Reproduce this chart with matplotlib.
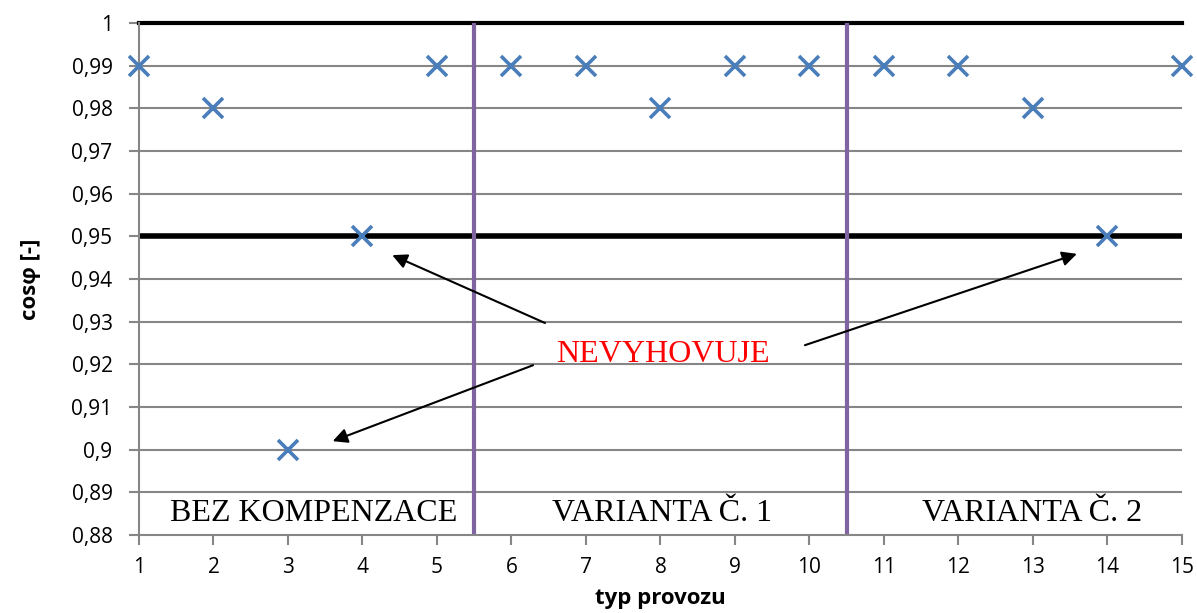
import matplotlib
matplotlib.use("Agg")
import matplotlib.pyplot as plt
import numpy as np

# data
provoz = list(range(1, 16))
cosphi = [0.99, 0.98, 0.90, 0.95, 0.99, 0.99, 0.99, 0.98, 0.99, 0.99,
          0.99, 0.99, 0.98, 0.95, 0.99]
limit = 0.95
sections = ["BEZ KOMPENZACE", "VARIANTA Č. 1", "VARIANTA Č. 2"]
section_x = [3.34, 8.02, 12.99]
borders = [5.5, 10.5]
yticks = np.round(np.arange(0.88, 1.0001, 0.01), 2)

fig = plt.figure(figsize=(11.97, 6.13), dpi=100)
ax = fig.add_axes([0.1161, 0.1272, 0.8713, 0.8352])

grid_c = "#868686"
for yv in yticks[1:-1]:
    ax.axhline(yv, color=grid_c, lw=1.5, zorder=1)

ax.axhline(1.0, color="black", lw=3, zorder=2, clip_on=False)
ax.axhline(limit, color="black", lw=4, zorder=2)
for b in borders:
    ax.axvline(b, color="#8064A2", lw=3, zorder=2)

ax.plot(provoz, cosphi, ls="none", marker="x", ms=14, mew=2.6,
        color="#4A7EBB", zorder=4, clip_on=False)

ax.set_xlim(1, 15)
ax.set_ylim(0.88, 1.0)
ax.set_xticks(provoz)
ax.set_yticks(yticks)
ax.set_yticklabels([f"{v:g}".replace(".", ",") for v in yticks])

for s in ["top", "right"]:
    ax.spines[s].set_visible(False)
for s in ["left", "bottom"]:
    ax.spines[s].set_color(grid_c)
    ax.spines[s].set_linewidth(1.5)
ax.tick_params(axis="both", colors=grid_c, length=7, width=1.5,
               labelcolor="black", labelsize=15)
ax.tick_params(axis="x", pad=9)
ax.tick_params(axis="y", pad=12)
for lab in ax.get_xticklabels() + ax.get_yticklabels():
    lab.set_family("Open Sans")

ax.set_xlabel("typ provozu", fontsize=16, fontweight="bold",
              family="Open Sans", labelpad=7)
ax.set_ylabel("cosφ [-]", fontsize=16, fontweight="bold",
              family="Open Sans", labelpad=22)

for name, xs in zip(sections, section_x):
    ax.text(xs, 0.885, name, ha="center", va="center", fontsize=23,
            family="Liberation Serif", zorder=5)

ax.text(8.03, 0.9222, "NEVYHOVUJE", ha="center", va="center", fontsize=23,
        family="Liberation Serif", color="red", zorder=5)

arrows = [((6.45, 0.9297), (4.40, 0.9456)),
          ((6.29, 0.9198), (3.60, 0.902)),
          ((9.94, 0.9245), (13.59, 0.9459))]
for start, end in arrows:
    ax.annotate("", xy=end, xytext=start,
                arrowprops=dict(arrowstyle="-|>", color="black", lw=1.5,
                                mutation_scale=22, shrinkA=0, shrinkB=0),
                zorder=5)

fig.savefig("out.png", dpi=100)
